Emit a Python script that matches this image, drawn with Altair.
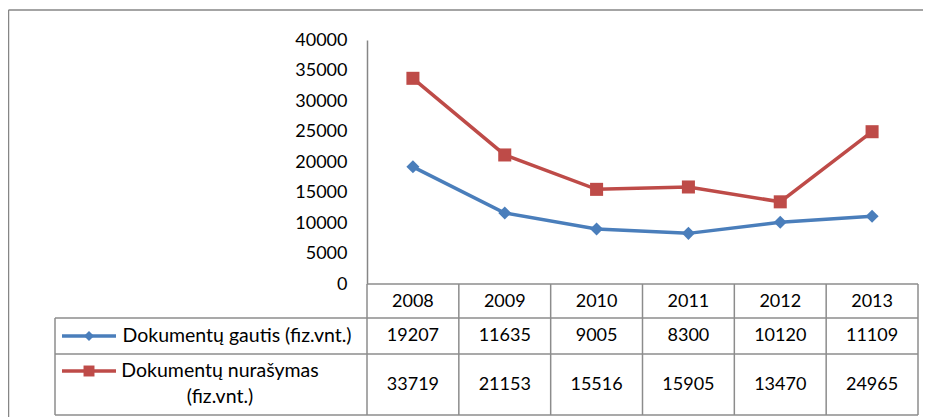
import altair as alt
import pandas as pd

years = ["2008", "2009", "2010", "2011", "2012", "2013"]
gautis = [19207, 11635, 9005, 8300, 10120, 11109]
nurasymas = [33719, 21153, 15516, 15905, 13470, 24965]
series_names = ["Dokumentų gautis (fiz.vnt.)", "Dokumentų nurašymas (fiz.vnt.)"]
y_ticks = [0, 5000, 10000, 15000, 20000, 25000, 30000, 35000, 40000]

BLUE = "#4A7EBB"
RED = "#BE4B48"
GRID = "#8C8C8C"
FONT = "Lato"
FS = 18
LFS = 19.5

W, H = 551, 244

rows = []
for i, y in enumerate(years):
    rows.append({"year": y, "pos": i + 0.5, "series": series_names[0], "value": gautis[i]})
    rows.append({"year": y, "pos": i + 0.5, "series": series_names[1], "value": nurasymas[i]})
df = pd.DataFrame(rows)

df_years = pd.DataFrame({"year": years, "pos": [i + 0.5 for i in range(len(years))],
                         "g": gautis, "n": nurasymas})
df_bounds = pd.DataFrame({"b": list(range(len(years) + 1))})
dummy = pd.DataFrame({"a": [0]})

xs = alt.Scale(domain=[0, len(years)], nice=False, zero=False)
ys = alt.Scale(domain=[0, 40000], nice=False)
cs = alt.Scale(domain=series_names, range=[BLUE, RED])
ss = alt.Scale(domain=series_names, range=["diamond", "square"])

y_axis = alt.Axis(values=y_ticks, format="d", title=None, grid=False, ticks=False,
                  labelPadding=20, domainColor="#868686", domainWidth=1.5,
                  labelFont=FONT, labelFontSize=FS, labelColor="#000000")

def X(field):
    return alt.X(field, scale=xs, axis=None)

def Y(field):
    return alt.Y(field, scale=ys, axis=y_axis)

def hrule(x1, x2, y, color=GRID, sw=1.5):
    return alt.Chart(dummy).mark_rule(color=color, strokeWidth=sw).encode(
        x=alt.value(x1), x2=alt.value(x2), y=alt.value(y))

def vrule(x, y1, y2, color=GRID, sw=1.5):
    return alt.Chart(dummy).mark_rule(color=color, strokeWidth=sw).encode(
        x=alt.value(x), y=alt.value(y1), y2=alt.value(y2))

def label(x, y, txt, align="center"):
    return alt.Chart(dummy).mark_text(font=FONT, fontSize=LFS, color="#000", align=align).encode(
        x=alt.value(x), y=alt.value(y), text=alt.value(txt))

border_top = hrule(-358.5, 556, -30, "#868686", 1.5)
border_left = vrule(-358.5, -30, 500, "#868686", 1.5)

lines = alt.Chart(df).mark_line(strokeWidth=3.5).encode(
    x=X("pos:Q"),
    y=Y("value:Q"),
    color=alt.Color("series:N", scale=cs, legend=None),
    detail="series:N",
)

points = alt.Chart(df).mark_point(filled=True, opacity=1, size=170).encode(
    x=X("pos:Q"),
    y=Y("value:Q"),
    color=alt.Color("series:N", scale=cs, legend=None),
    shape=alt.Shape("series:N", scale=ss, legend=None),
)

vrules = alt.Chart(df_bounds).mark_rule(color=GRID, strokeWidth=1.5).encode(
    x=X("b:Q"), y=alt.value(H), y2=alt.value(375)
)
grid = [hrule(0, W, H), hrule(-312, W, 278), hrule(-312, W, 314), hrule(-312, W, 375),
        vrule(-312, 278, 375)]

year_text = alt.Chart(df_years).mark_text(font=FONT, fontSize=FS, color="#000").encode(
    x=X("pos:Q"), y=alt.value(262), text="year:N"
)
g_text = alt.Chart(df_years).mark_text(font=FONT, fontSize=FS, color="#000").encode(
    x=X("pos:Q"), y=alt.value(296), text="g:Q"
)
n_text = alt.Chart(df_years).mark_text(font=FONT, fontSize=FS, color="#000").encode(
    x=X("pos:Q"), y=alt.value(345), text="n:Q"
)

key_blue_line = hrule(-305, -251, 296, BLUE, 3.5)
key_blue_pt = alt.Chart(dummy).mark_point(filled=True, opacity=1, shape="diamond", size=100,
                                          color=BLUE).encode(x=alt.value(-278), y=alt.value(296))
key_red_line = hrule(-305, -251, 331, RED, 3.5)
key_red_pt = alt.Chart(dummy).mark_point(filled=True, opacity=1, shape="square", size=120,
                                         color=RED).encode(x=alt.value(-278), y=alt.value(331))

lab1 = label(-130, 296, "Dokumentų gautis (fiz.vnt.)")
lab2a = label(-147, 331, "Dokumentų nurašymas")
lab2b = label(-147, 357, "(fiz.vnt.)")

chart = alt.layer(
    border_top, border_left, vrules, *grid, lines, points,
    year_text, g_text, n_text,
    key_blue_line, key_blue_pt, key_red_line, key_red_pt, lab1, lab2a, lab2b,
).properties(
    width=W, height=H,
    autosize=alt.AutoSizeParams(type="none"),
    padding={"left": 359, "top": 32, "right": 5, "bottom": 133},
).configure_view(stroke=None)

chart.save("out.html", embed_options={"renderer": "svg", "actions": False})
